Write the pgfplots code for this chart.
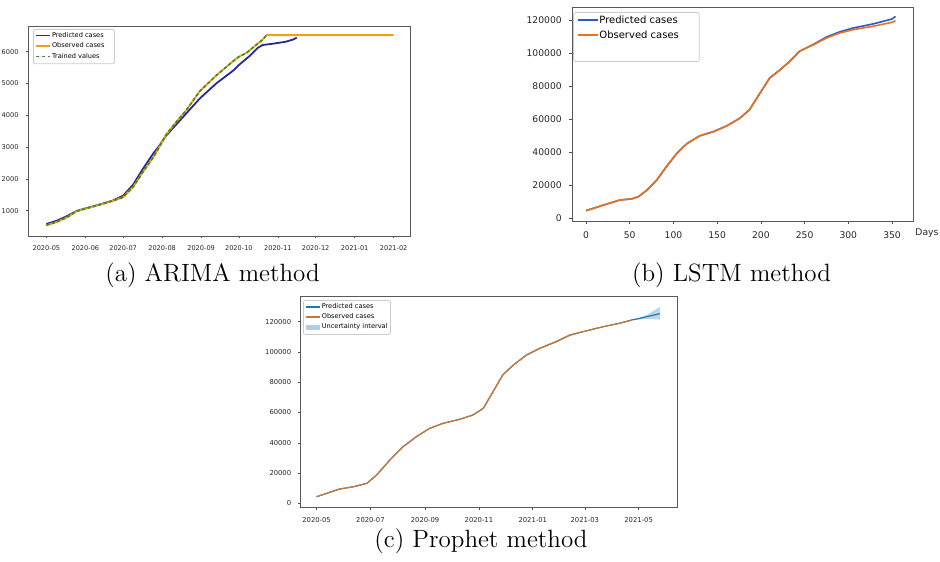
\documentclass[border=0pt]{standalone}
\usepackage{pgfplots}
\pgfplotsset{compat=1.18}
\usepackage{fontspec}
\newfontfamily\dv{DejaVu Sans}

\definecolor{predA}{RGB}{40,40,150}
\definecolor{obsA}{RGB}{240,160,20}
\definecolor{trainA}{RGB}{60,140,40}
\definecolor{predB}{RGB}{40,90,200}
\definecolor{obsB}{RGB}{230,115,30}
\definecolor{predC}{RGB}{31,119,180}
\definecolor{obsC}{RGB}{200,120,50}

\pgfplotsset{
  mpl/.style={
    scale only axis,
    scaled ticks=false,
    /pgf/number format/assume math mode=true,
    /pgf/number format/fixed,
    /pgf/number format/1000 sep={},
    axis line style={black!65, line width=0.4pt},
    tick align=outside, tick pos=left,
    major tick length=1.2pt,
    tick style={black!70, line width=0.3pt},
    legend cell align=left,
    legend style={draw=black!20, rounded corners=1pt, fill=white,
      anchor=north west, inner xsep=1pt, inner ysep=1pt, row sep=0.4pt,
      nodes={inner sep=0.4pt}},
  },
}

\begin{document}
\begin{tikzpicture}
\useasboundingbox (0,0) rectangle (470pt,280.5pt);

% (a) ARIMA
\begin{axis}[mpl, name=a,
  at={(14pt,162.5pt)}, anchor=south west,
  width=191pt, height=105pt,
  xmin=-14.6, xmax=289, ymin=203, ymax=6807,
  xtick={0,31,61,92,123,153,184,214,245,276},
  xticklabels={2020-05,2020-06,2020-07,2020-08,2020-09,2020-10,2020-11,2020-12,2021-01,2021-02},
  ytick={1000,2000,3000,4000,5000,6000},
  tick label style={font=\dv\fontsize{3.3}{4}\selectfont, text=black!85},
  legend style={at={(axis description cs:0,1)}, xshift=2.5pt, yshift=-1.5pt,
    font=\dv\fontsize{3.3}{4}\selectfont},
  legend image code/.code={\draw[#1, line width=0.9pt] (0pt,0.3pt) -- (7pt,0.3pt);},
]
\addplot[predA, line width=0.9pt] coordinates {
 (0,580)(8,680)(16,820)(24,990)(30,1060)(42,1190)(53,1320)(61,1470)(69,1820)
 (77,2330)(85,2800)(89,3000)(95,3350)(103,3700)(111,4050)(122,4530)(135,5000)
 (149,5420)(153,5580)(162,5880)(168,6120)(172,6210)(180,6250)(190,6310)(196,6380)(199,6440)
};
\addlegendentry{Predicted cases}
\addplot[obsA, line width=0.9pt] coordinates {
 (0,540)(8,640)(16,780)(24,980)(30,1050)(42,1180)(53,1310)(61,1420)(69,1750)
 (77,2230)(85,2680)(89,2950)(95,3380)(103,3780)(111,4150)(122,4760)(135,5250)
 (149,5720)(153,5840)(159,5960)(167,6220)(172,6380)(175,6520)(276,6520)
};
\addlegendentry{Observed cases}
\addplot[trainA, line width=0.8pt, dash pattern=on 1.6pt off 1.2pt] coordinates {
 (0,540)(8,640)(16,780)(24,980)(30,1050)(42,1180)(53,1310)(61,1420)(69,1750)
 (77,2230)(85,2680)(89,2950)(95,3380)(103,3780)(111,4150)(122,4760)(135,5250)
 (149,5720)(153,5840)(159,5960)(167,6220)(172,6380)(175,6520)
};
\addlegendentry{Trained values\hspace*{6pt}}
\end{axis}

% (b) LSTM
\begin{axis}[mpl, name=b,
  at={(286pt,170pt)}, anchor=south west,
  width=170.5pt, height=107pt,
  xmin=-16, xmax=374, ymin=-1620, ymax=128100,
  xtick={0,50,100,150,200,250,300,350},
  ytick={0,20000,40000,60000,80000,100000,120000},
  major tick length=1.6pt,
  tick label style={font=\dv\fontsize{4.6}{6}\selectfont, text=black!85},
  legend style={at={(axis description cs:0,1)}, xshift=0.6pt, yshift=-2.5pt,
    font=\dv\fontsize{5}{6}\selectfont, inner xsep=1.5pt, inner ysep=1.5pt,
    row sep=1.3pt},
  legend image code/.code={\draw[#1, line width=1pt] (0pt,0.5pt) -- (10pt,0.5pt);},
]
\addplot[predB, line width=0.8pt] coordinates {
 (0,4650)(24,8700)(39,11130)(52,11740)(60,13150)(70,17200)(81,23270)(92,31370)
 (104,39460)(115,45130)(130,50000)(146,52600)(161,56050)(176,60700)(187,65800)
 (199,75900)(210,85000)(222,90050)(233,95100)(244,101200)(260,105400)(275,109900)
 (290,113000)(305,115300)(328,117800)(350,120800)(354,122400)
};
\addlegendentry{Predicted cases}
\addplot[obsB, line width=0.8pt] coordinates {
 (0,4650)(24,8700)(39,11130)(52,11740)(60,13150)(70,17200)(81,23270)(92,31370)
 (104,39460)(115,45130)(130,50000)(146,52600)(161,56050)(176,60700)(187,65800)
 (199,75900)(210,85000)(222,90050)(233,95100)(244,101200)(260,105200)(275,109300)
 (290,112300)(305,114300)(328,116400)(350,118800)(354,119800)
};
\addlegendentry{Observed cases}
\addlegendimage{empty legend}
\addlegendentry{\rule{0pt}{4.5pt}\hspace*{48pt}}
\end{axis}
\node[anchor=base west, inner sep=0, font=\dv\fontsize{4.6}{6}\selectfont, text=black!85,
  xshift=1pt, yshift=-7.2pt] at (b.south east) {Days};

% (c) Prophet
\begin{axis}[mpl, name=c,
  at={(150.3pt,26.65pt)}, anchor=south west,
  width=188.2pt, height=105.5pt,
  xmin=-18.1, xmax=408.5, ymin=-2860, ymax=136500,
  xtick={0,61,123,184,245,304,365},
  xticklabels={2020-05,2020-07,2020-09,2020-11,2021-01,2021-03,2021-05},
  ytick={0,20000,40000,60000,80000,100000,120000},
  tick label style={font=\dv\fontsize{3.4}{4}\selectfont, text=black!85},
  legend style={at={(axis description cs:0,1)}, xshift=1.2pt, yshift=-1.7pt,
    font=\dv\fontsize{3.3}{4}\selectfont, row sep=0.3pt},
  legend image code/.code={\draw[#1, line width=0.8pt] (0pt,0.3pt) -- (7pt,0.3pt);},
]
\addplot[fill=predC, fill opacity=0.3, draw=none, forget plot] coordinates {
 (357,121300)(365,122600)(375,124700)(389,129700)
 (389,121400)(375,121800)(365,121500)(357,121000)
} -- cycle;
\addplot[predC, line width=0.6pt] coordinates {
 (0,4400)(26,9470)(42,11000)(57,13200)(68,18700)(83,28600)(98,37400)(113,44000)
 (128,49500)(143,52800)(162,55500)(177,58300)(189,62800)(200,73800)(211,84800)
 (223,91400)(238,98000)(253,102400)(272,107000)(287,111200)(302,113400)
 (325,116700)(343,118900)(357,121100)(365,122000)(375,123400)(389,125300)
};
\addlegendentry{Predicted cases}
\addplot[obsC, line width=0.6pt] coordinates {
 (0,4400)(26,9470)(42,11000)(57,13200)(68,18700)(83,28600)(98,37400)(113,44000)
 (128,49500)(143,52800)(162,55500)(177,58300)(189,62800)(200,73800)(211,84800)
 (223,91400)(238,98000)(253,102400)(272,106800)(287,111000)(302,113400)
 (325,116700)(343,118900)(357,120900)
};
\addlegendentry{Observed cases}
\addlegendimage{legend image code/.code={\fill[draw=none, rounded corners=0pt, predC, fill opacity=0.35] (0pt,-0.9pt) rectangle (7pt,1.4pt);}}
\addlegendentry{Uncertainty interval}
\end{axis}

\node[font=\fontsize{12.5}{15}\selectfont] at (106.25pt,143pt) {(a) ARIMA method};
\node[font=\fontsize{12.5}{15}\selectfont] at (365.75pt,143pt) {(b) LSTM method};
\node[font=\fontsize{12.5}{15}\selectfont] at (240.5pt,10pt) {(c) Prophet method};
\end{tikzpicture}
\end{document}
